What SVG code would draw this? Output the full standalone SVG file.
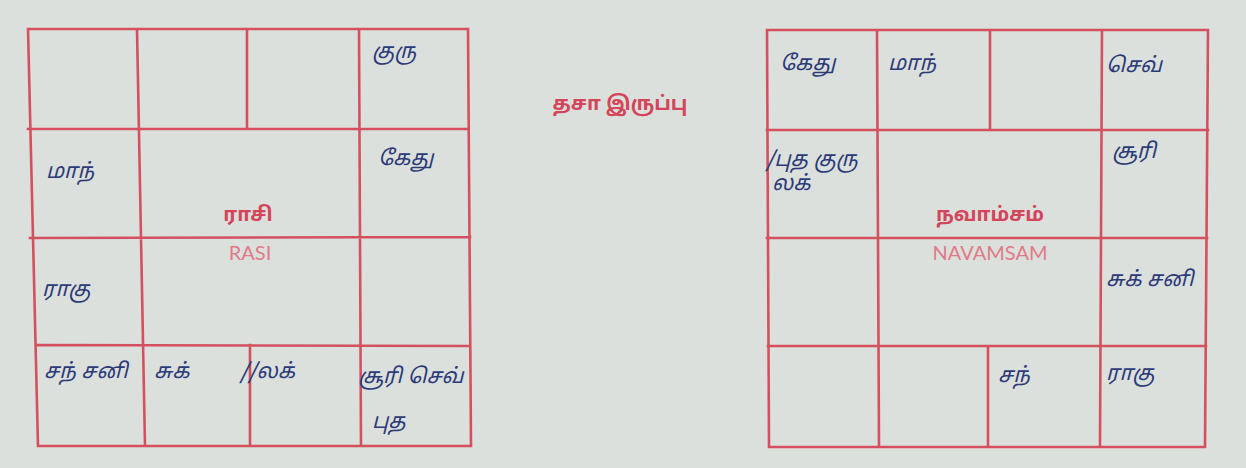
<svg xmlns="http://www.w3.org/2000/svg" width="1246" height="468" viewBox="0 0 1246 468">
<style>
.ln{stroke:#d5505f;stroke-width:2.6;fill:none;stroke-linecap:square}
.hw{font-family:"Noto Sans Tamil","Lohit Tamil","Noto Sans",sans-serif;font-size:21px;fill:#2c3a78;font-style:italic}
.tb{font-family:"Noto Sans Tamil","Lohit Tamil","Noto Sans",sans-serif;font-size:20px;font-weight:bold;fill:#d4455a;text-anchor:middle}
.en{font-family:"Lato","Noto Sans",sans-serif;font-size:20px;fill:#e07a86;text-anchor:middle}
</style>
<rect width="1246" height="468" fill="#dbe0dd"/>
<g id="title"><text class="tb" x="620" y="110">தசா இருப்பு</text></g>
<g id="rasi-grid">
<path class="ln" d="M28,29 L468,29 M28,129 L468,129 M30,238 L470,237 M37,345 L470,346 M38,446 L471,446 M28,29 L38,446 M137,29 L145,446 M247,29 L247,129 M250,345 L250,446 M359,29 L361,446 M468,29 L471,446"/>
</g>
<g id="rasi-center"><text class="tb" x="248" y="221">ராசி</text><text class="en" x="250" y="260">RASI</text></g>
<g id="rasi-labels">
<text class="hw" x="372" y="58">குரு</text>
<text class="hw" x="46" y="178">மாந்</text>
<text class="hw" x="378" y="165">கேது</text>
<text class="hw" x="42" y="296">ராகு</text>
<text class="hw" x="44" y="378">சந் சனி</text>
<text class="hw" x="154" y="378">சுக்</text>
<text class="hw" x="240" y="378">//லக்</text>
<text class="hw" x="358" y="383">சூரி செவ்</text>
<text class="hw" x="372" y="428">புத</text>
</g>
<g id="navamsam-grid">
<path class="ln" d="M767,30 L1208,30 M767,130 L1208,130 M767,238 L1207,238 M768,346 L1206,346 M769,447 L1205,447 M767,30 L769,447 M877,30 L879,447 M990,30 L990,130 M988,346 L988,447 M1102,30 L1100,447 M1208,30 L1205,447"/>
</g>
<g id="navamsam-center"><text class="tb" x="990" y="221">நவாம்சம்</text><text class="en" x="990" y="260">NAVAMSAM</text></g>
<g id="navamsam-labels">
<text class="hw" x="780" y="70">கேது</text>
<text class="hw" x="888" y="70">மாந்</text>
<text class="hw" x="1106" y="72">செவ்</text>
<text class="hw" x="766" y="166">/புத குரு</text>
<text class="hw" x="772" y="190">லக்</text>
<text class="hw" x="1112" y="158">சூரி</text>
<text class="hw" x="1106" y="286">சுக் சனி</text>
<text class="hw" x="998" y="382">சந்</text>
<text class="hw" x="1106" y="380">ராகு</text>
</g>
</svg>
